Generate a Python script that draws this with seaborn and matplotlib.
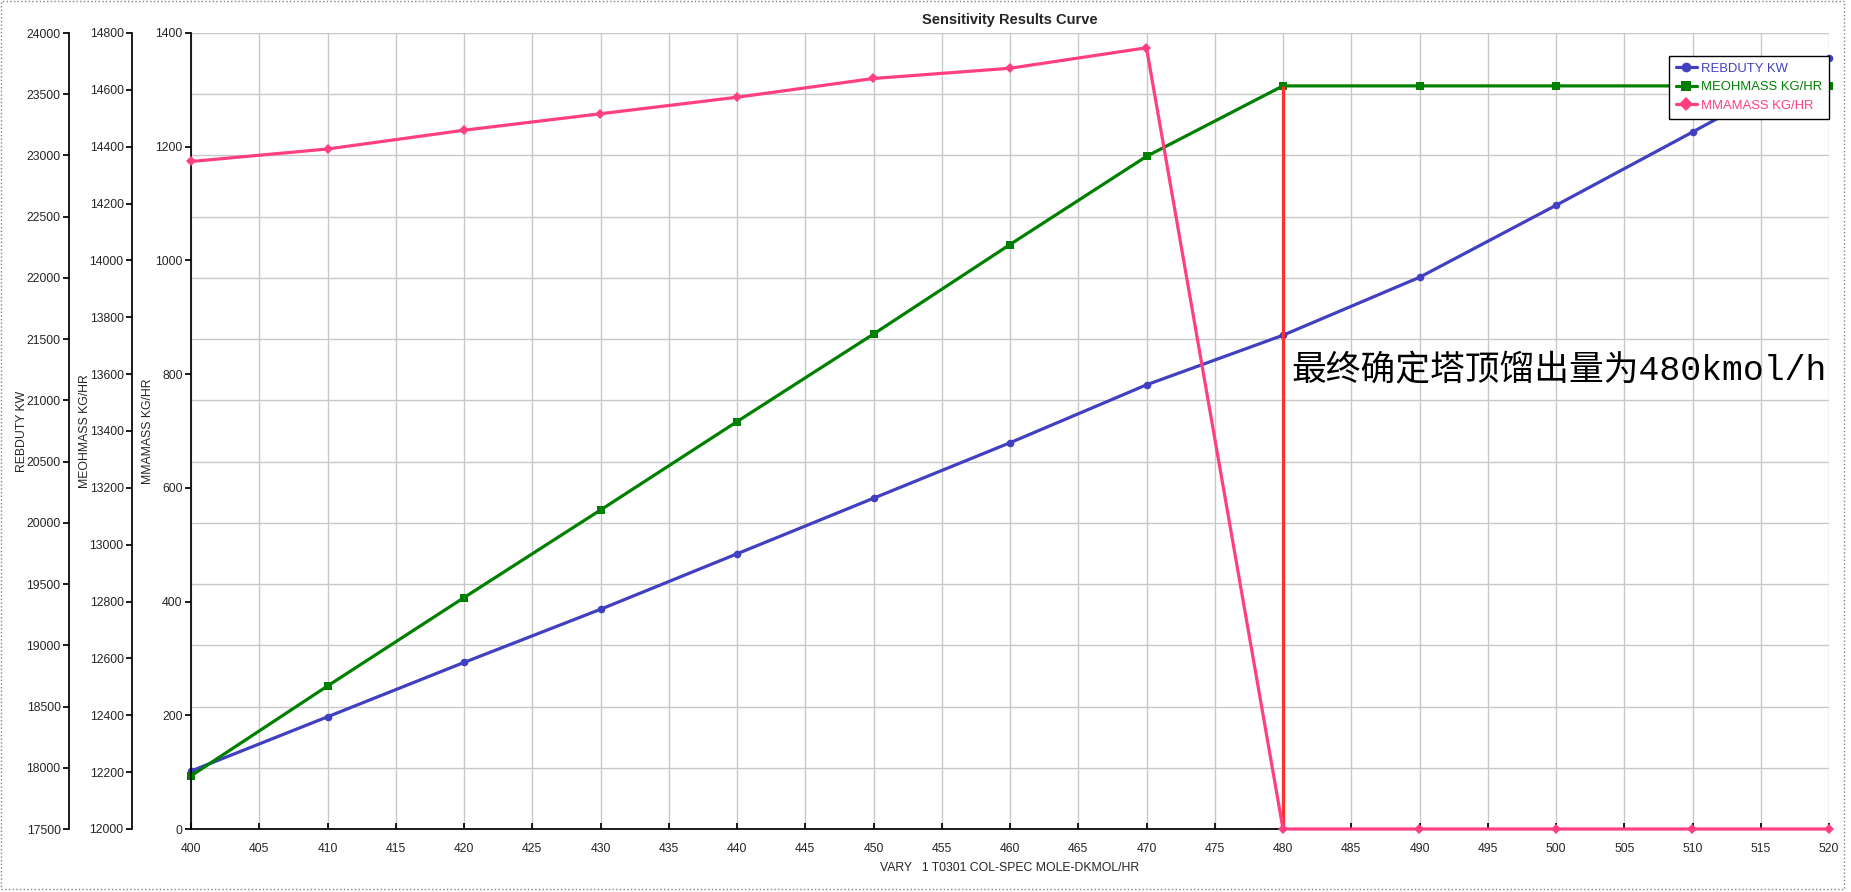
import matplotlib
matplotlib.use("Agg")
import matplotlib.pyplot as plt
import seaborn as sns
import numpy as np
import pandas as pd
from matplotlib.lines import Line2D
from matplotlib.patches import Rectangle

# ---- data ----
vary_x = [400, 410, 420, 430, 440, 450, 460, 470, 480, 490, 500, 510, 520]
rebduty_kw = [17973, 18416, 18860, 19294, 19747, 20201, 20654, 21127, 21532, 22005, 22593, 23191, 23799]
meohmass = [12187, 12503, 12814, 13122, 13433, 13741, 14056, 14366, 14614, 14614, 14614, 14614, 14614]
mmamass = [1174, 1196, 1229, 1258, 1287, 1320, 1338, 1374, 0, 0, 0, 0, 0]
series_names = ["REBDUTY KW", "MEOHMASS KG/HR", "MMAMASS KG/HR"]
x_ticks = list(range(400, 521, 5))
reb_ticks = list(range(17500, 24001, 500))
meoh_ticks = list(range(12000, 14801, 200))
mma_ticks = list(range(0, 1401, 200))
highlight_x = 480
annotation = "最终确定塔顶馏出量为480kmol/h"
title = "Sensitivity Results Curve"
xlabel = "VARY   1 T0301 COL-SPEC MOLE-DKMOL/HR"

df = pd.DataFrame({"x": vary_x, "reb": rebduty_kw, "meoh": meohmass, "mma": mmamass})

sns.set_theme(style="white")
plt.rcParams["font.family"] = ["Liberation Sans", "DejaVu Sans"]

c_reb = "#4040c0"
c_meoh = "#008000"
c_mma = "#ff3f80"
c_red = "#ff3030"

W, H = 1851, 892
fig = plt.figure(figsize=(W / 100, H / 100), dpi=100)
L, R, B, T = 191, 1829, 829, 33
ax = fig.add_axes([L / W, 1 - B / H, (R - L) / W, (B - T) / H])
ax_w = R - L

ax2 = ax.twinx()
ax3 = ax.twinx()

tick_fs = 8.8
lw = 2.3
ms = 5.5

# host axis: REBDUTY
ax.set_xlim(400, 520)
ax.set_ylim(17500, 24000)
ax.set_xticks(x_ticks)
ax.set_yticks(reb_ticks)
ax.grid(True, color="#c8c8c8", linewidth=1.0)
for s in ["top", "right"]:
    ax.spines[s].set_visible(False)
ax.spines["left"].set_position(("axes", (69 - L) / ax_w))
ax.spines["bottom"].set_color("black")
ax.spines["left"].set_color("black")
ax.tick_params(axis="x", direction="in", length=4, color="black", labelsize=tick_fs, pad=10, bottom=True)
ax.tick_params(axis="y", direction="out", length=4, color="black", labelsize=tick_fs, pad=2, left=True)

# twin axes on the left
for a, pos, lim, ticks in [(ax2, (132 - L) / ax_w, (12000, 14800), meoh_ticks),
                           (ax3, 0.0, (0, 1400), mma_ticks)]:
    a.set_ylim(*lim)
    a.set_yticks(ticks)
    a.yaxis.set_ticks_position("left")
    a.yaxis.set_label_position("left")
    for s in ["top", "right", "bottom"]:
        a.spines[s].set_visible(False)
    a.spines["left"].set_visible(True)
    a.spines["left"].set_position(("axes", pos))
    a.spines["left"].set_color("black")
    a.tick_params(axis="y", direction="out", length=4, color="black", labelsize=tick_fs, pad=2,
                  left=True, right=False, labelleft=True, labelright=False)
    a.grid(False)

# series
sns.lineplot(data=df, x="x", y="reb", ax=ax, color=c_reb, marker="o", markersize=ms,
             markeredgewidth=0, linewidth=lw, zorder=3, clip_on=False)
sns.lineplot(data=df, x="x", y="meoh", ax=ax2, color=c_meoh, marker="s", markersize=ms,
             markeredgewidth=0, linewidth=lw, zorder=3, clip_on=False)
sns.lineplot(data=df, x="x", y="mma", ax=ax3, color=c_mma, marker="D", markersize=ms,
             markeredgewidth=0, linewidth=lw, zorder=3, clip_on=False)

# highlight vertical line at the chosen distillate rate
meoh_at = df.loc[df["x"] == highlight_x, "meoh"].iloc[0]
ax2.vlines(highlight_x, 12000, meoh_at, color=c_red, linewidth=lw, zorder=4)

ax3.text(highlight_x + 0.6, 805, annotation, fontsize=25, color="black",
         family=["Liberation Mono", "Noto Sans CJK SC"], va="center", ha="left")

# axis labels
ax.set_xlabel(xlabel, fontsize=tick_fs)
ax.xaxis.set_label_coords(0.5, -(862 - B) / (B - T), transform=ax.transAxes)
ax.set_ylabel(series_names[0], fontsize=tick_fs)
ax2.set_ylabel(series_names[1], fontsize=tick_fs)
ax3.set_ylabel(series_names[2], fontsize=tick_fs)
ax.yaxis.set_label_coords((28 - L) / ax_w, 0.5)
ax2.yaxis.set_label_coords((91 - L) / ax_w, 0.5)
ax3.yaxis.set_label_coords((154 - L) / ax_w, 0.5)

fig.text(1010 / W, 1 - 20 / H, title, fontsize=10.5, fontweight="bold", ha="center", va="center")

# legend
handles = [Line2D([], [], color=c_reb, marker="o", markersize=7, markeredgewidth=0, linewidth=lw),
           Line2D([], [], color=c_meoh, marker="s", markersize=7, markeredgewidth=0, linewidth=lw),
           Line2D([], [], color=c_mma, marker="D", markersize=7, markeredgewidth=0, linewidth=lw)]
leg = ax3.legend(handles, series_names, loc="upper right",
                 bbox_to_anchor=(1.0, 1 - (56 - T) / (B - T)),
                 fontsize=9.4, frameon=True, fancybox=False, framealpha=1,
                 edgecolor="black", borderpad=0.5, handlelength=1.6, labelspacing=0.5,
                 handletextpad=0.35, borderaxespad=0)
leg.get_frame().set_linewidth(1.0)
leg.set_zorder(10)
for t, c in zip(leg.get_texts(), [c_reb, c_meoh, c_mma]):
    t.set_color(c)

# dotted window frame
fig.add_artist(Rectangle((1 / W, 3 / H), (W - 8) / W, (H - 4) / H, transform=fig.transFigure,
                         fill=False, edgecolor="#808080", linestyle=":", linewidth=1.0))

fig.savefig("out.png", dpi=100)
